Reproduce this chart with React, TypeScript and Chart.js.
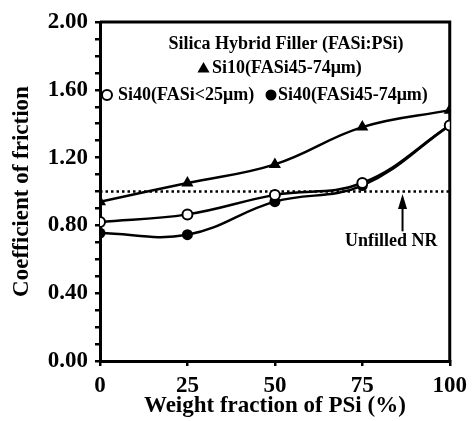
import { useEffect, useRef } from 'react';
import { Chart, registerables } from 'chart.js';

Chart.register(...registerables);

// ---- data ----
const psiFraction = [0, 25, 50, 75, 100];
const si10Fasi45to74 = [0.94, 1.05, 1.16, 1.38, 1.48];
const si40FasiBelow25 = [0.82, 0.865, 0.98, 1.05, 1.39];
const si40Fasi45to74 = [0.755, 0.745, 0.94, 1.035, 1.39];
const unfilledNR = 1.0;

const xTickValues = [0, 25, 50, 75, 100];
const yMajorStep = 0.4;
const yMinorStep = 0.1;

const legendTitle = 'Silica Hybrid Filler (FASi:PSi)';
const legendSi10 = 'Si10(FASi45-74\u03bcm)';
const legendSi40a = 'Si40(FASi<25\u03bcm)';
const legendSi40b = 'Si40(FASi45-74\u03bcm)';
const unfilledLabel = 'Unfilled NR';
const arrowX = 86.5;
const arrowTipY = 0.985;
const arrowTailY = 0.765;
const unfilledLabelX = 83.3;
const unfilledLabelY = 0.705;

const xTitle = 'Weight fraction of PSi (%)';
const yTitle = 'Coefficient of friction';

const FAMILY = '"Liberation Serif", "Times New Roman", Times, serif';

function pts(ys: number[]) {
  return psiFraction.map((x, i) => ({ x, y: ys[i] }));
}

function triangle(ctx: CanvasRenderingContext2D, cx: number, cy: number, r: number) {
  ctx.beginPath();
  ctx.moveTo(cx, cy - r);
  ctx.lineTo(cx + r * 0.866, cy + r / 2);
  ctx.lineTo(cx - r * 0.866, cy + r / 2);
  ctx.closePath();
  ctx.fill();
}

const framePlugin = {
  id: 'frame',
  beforeDatasetsDraw(chart: any) {
    const { ctx, chartArea: a } = chart;
    ctx.save();
    ctx.strokeStyle = '#000';
    ctx.lineWidth = 3;
    ctx.beginPath();
    ctx.moveTo(a.left, a.top);
    ctx.lineTo(a.right, a.top);
    ctx.lineTo(a.right, a.bottom);
    ctx.stroke();
    ctx.restore();
  },
};

const annotationPlugin = {
  id: 'annot',
  afterDraw(chart: any) {
    const { ctx, chartArea: a, scales } = chart;
    const xs = scales.x;
    const ys = scales.y;
    ctx.save();
    ctx.fillStyle = '#000';
    ctx.strokeStyle = '#000';
    ctx.font = `bold 18px ${FAMILY}`;
    ctx.textBaseline = 'middle';

    // legend
    ctx.textAlign = 'center';
    ctx.fillText(legendTitle, a.left + 186, a.top + 22);

    ctx.textAlign = 'left';
    triangle(ctx, a.left + 103.5, a.top + 47, 7);
    ctx.fillText(legendSi10, a.left + 112, a.top + 46);

    ctx.lineWidth = 2;
    ctx.beginPath();
    ctx.arc(a.left + 7, a.top + 73, 5, 0, Math.PI * 2);
    ctx.stroke();
    ctx.fillText(legendSi40a, a.left + 18, a.top + 73);
    ctx.beginPath();
    ctx.arc(a.left + 171, a.top + 73, 5.5, 0, Math.PI * 2);
    ctx.fill();
    ctx.fillText(legendSi40b, a.left + 178, a.top + 73);

    // arrow for unfilled NR
    const ax = xs.getPixelForValue(arrowX);
    const tip = ys.getPixelForValue(arrowTipY);
    const tail = ys.getPixelForValue(arrowTailY);
    ctx.lineWidth = 2;
    ctx.beginPath();
    ctx.moveTo(ax, tail);
    ctx.lineTo(ax, tip + 10);
    ctx.stroke();
    ctx.beginPath();
    ctx.moveTo(ax, tip);
    ctx.lineTo(ax + 4.5, tip + 15);
    ctx.lineTo(ax - 4.5, tip + 15);
    ctx.closePath();
    ctx.fill();

    ctx.textAlign = 'center';
    ctx.fillText(unfilledLabel, xs.getPixelForValue(unfilledLabelX), ys.getPixelForValue(unfilledLabelY));
    ctx.restore();
  },
};

export default function App() {
  const ref = useRef<HTMLCanvasElement | null>(null);

  useEffect(() => {
    if (!ref.current) return;
    const tickFont = { family: FAMILY, size: 23, weight: 'bold' as const };
    const chart = new Chart(ref.current, {
      type: 'line',
      data: {
        datasets: [
          {
            label: legendSi10,
            data: pts(si10Fasi45to74),
            borderColor: '#000',
            backgroundColor: '#000',
            borderWidth: 2.5,
            pointStyle: 'triangle',
            pointRadius: 7,
            pointBorderWidth: 0,
            tension: 0.4,
          },
          {
            label: legendSi40a,
            data: pts(si40FasiBelow25),
            borderColor: '#000',
            backgroundColor: '#fff',
            pointBackgroundColor: '#fff',
            pointBorderColor: '#000',
            borderWidth: 2.5,
            pointStyle: 'circle',
            pointRadius: 5,
            pointBorderWidth: 2,
            tension: 0.4,
          },
          {
            label: legendSi40b,
            data: pts(si40Fasi45to74),
            borderColor: '#000',
            backgroundColor: '#000',
            borderWidth: 2.5,
            pointStyle: 'circle',
            pointRadius: 5.5,
            pointBorderWidth: 0,
            tension: 0.4,
          },
          {
            label: unfilledLabel,
            data: [
              { x: psiFraction[0], y: unfilledNR },
              { x: psiFraction[psiFraction.length - 1], y: unfilledNR },
            ],
            borderColor: '#000',
            borderWidth: 2.5,
            borderDash: [2.5, 3],
            pointRadius: 0,
            tension: 0,
          },
        ],
      },
      options: {
        responsive: false,
        animation: false,
        devicePixelRatio: 1,
        layout: { padding: { top: 22, right: 20, left: 0, bottom: 0 } },
        plugins: {
          legend: { display: false },
          tooltip: { enabled: false },
          title: { display: false },
        },
        scales: {
          x: {
            type: 'linear',
            min: 0,
            max: 100,
            afterFit: (s: any) => {
              s.height = 60;
            },
            afterBuildTicks: (s: any) => {
              s.ticks = xTickValues.map((v) => ({ value: v }));
            },
            ticks: {
              color: '#000',
              font: tickFont,
              padding: 6,
              maxRotation: 0,
              autoSkip: false,
            },
            grid: {
              display: true,
              drawOnChartArea: false,
              drawTicks: true,
              tickLength: 5,
              color: '#000',
              lineWidth: 2.5,
            },
            border: { display: true, color: '#000', width: 3 },
            title: {
              display: true,
              text: xTitle,
              color: '#000',
              font: tickFont,
              padding: { top: 0, bottom: 1 },
            },
          },
          y: {
            type: 'linear',
            min: 0,
            max: 2,
            afterFit: (s: any) => {
              s.width = 100;
            },
            ticks: {
              stepSize: yMinorStep,
              autoSkip: false,
              color: '#000',
              font: tickFont,
              padding: 7,
              callback: (v: any) => {
                const n = Number(v);
                const k = n / yMajorStep;
                return Math.abs(k - Math.round(k)) < 1e-6 ? n.toFixed(2) : '';
              },
            },
            grid: {
              display: true,
              drawOnChartArea: false,
              drawTicks: true,
              tickLength: 5,
              color: '#000',
              lineWidth: 2.5,
            },
            border: { display: true, color: '#000', width: 3 },
            title: {
              display: true,
              text: yTitle,
              color: '#000',
              font: tickFont,
              padding: { top: 8, bottom: 0 },
            },
          },
        },
      },
      plugins: [framePlugin, annotationPlugin],
    });
    return () => chart.destroy();
  }, []);

  return (
    <div style={{ position: 'absolute', left: 0, top: 0, width: 473, height: 421, background: '#fff' }}>
      <canvas ref={ref} width={473} height={421} style={{ display: 'block' }} />
    </div>
  );
}
